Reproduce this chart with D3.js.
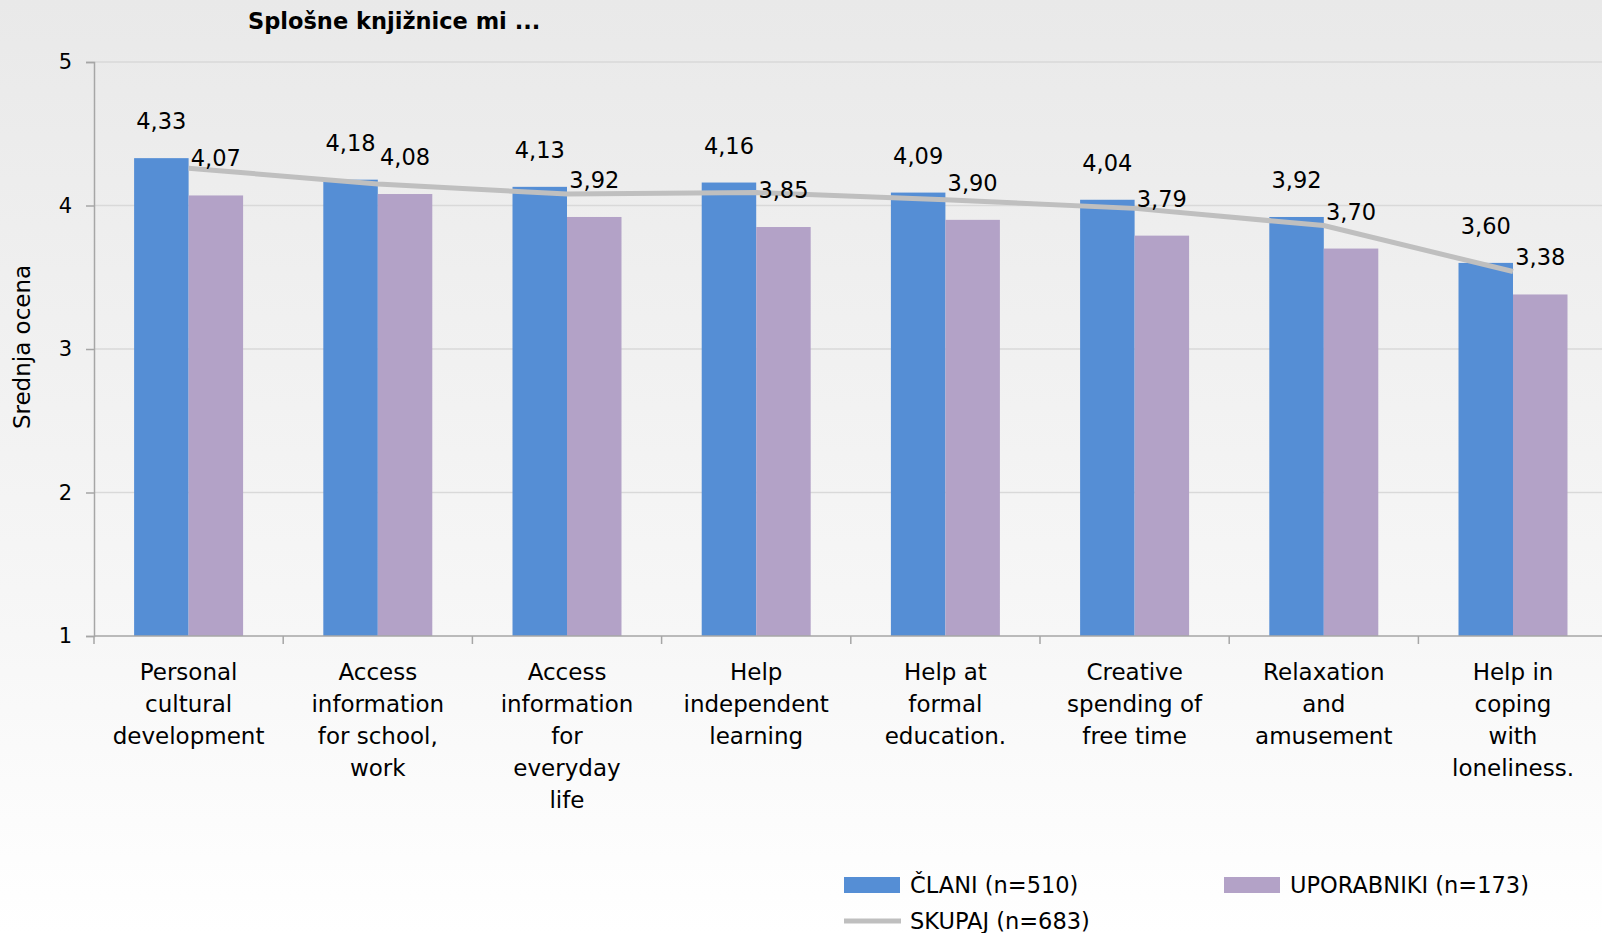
<!DOCTYPE html>
<html><head><meta charset="utf-8">
<script src="https://cdn.jsdelivr.net/npm/d3@7"></script>
<style>html,body{margin:0;padding:0;overflow:hidden;background:#fff}</style>
</head><body><svg id="c" width="1602" height="933"></svg>
<script>
const title = "Splošne knjižnice mi ...";
const yTitle = "Srednja ocena";
const categories = ["Personal\ncultural\ndevelopment", "Access\ninformation\nfor school,\nwork", "Access\ninformation\nfor\neveryday\nlife", "Help\nindependent\nlearning", "Help at\nformal\neducation.", "Creative\nspending of\nfree time", "Relaxation\nand\namusement", "Help in\ncoping\nwith\nloneliness."];
const seriesNames = ["ČLANI (n=510)", "UPORABNIKI (n=173)"];
const clani = [4.33, 4.18, 4.13, 4.16, 4.09, 4.04, 3.92, 3.60];
const uporabniki = [4.07, 4.08, 3.92, 3.85, 3.90, 3.79, 3.70, 3.38];
const lineName = "SKUPAJ (n=683)";
const skupaj = [4.26, 4.15, 4.08, 4.09, 4.04, 3.98, 3.86, 3.54];
const yTicks = [1, 2, 3, 4, 5];

const colors = ["#558ED5", "#B3A2C7"];
const lineColor = "#BFBFBF";
const font = "'DejaVu Sans', Verdana, sans-serif";
const W = 1602, H = 933;
const plotLeft = 94, plotBottom = 636, plotTop = 62, plotRight = 1607.6;

const svg = d3.select("#c");
const defs = svg.append("defs");
const grad = defs.append("linearGradient").attr("id", "bg").attr("x1", 0).attr("x2", 0).attr("y1", 0).attr("y2", 1);
grad.append("stop").attr("offset", "0%").attr("stop-color", "#e9e9e9");
grad.append("stop").attr("offset", "68%").attr("stop-color", "#f7f7f7");
grad.append("stop").attr("offset", "100%").attr("stop-color", "#ffffff");
svg.append("rect").attr("width", W).attr("height", H).attr("fill", "url(#bg)");

const x0 = d3.scaleBand().domain(categories).range([plotLeft, plotRight]).padding(0);
const x1 = d3.scaleBand().domain([0, 1]).range([0, x0.bandwidth()]).paddingInner(0).paddingOuter(0.736);
const y = d3.scaleLinear().domain([1, 5]).range([plotBottom, plotTop]);
const fmt = v => d3.format(".2f")(v).replace(".", ",");

// gridlines
svg.append("g").selectAll("line").data(yTicks.filter(t => t > 1)).join("line")
  .attr("x1", plotLeft).attr("x2", W).attr("y1", d => y(d)).attr("y2", d => y(d))
  .attr("stroke", "#d9d9d9").attr("stroke-width", 1.5);

// bars
const series = [clani, uporabniki];
const gBars = svg.append("g");
series.forEach((vals, s) => {
  gBars.append("g").selectAll("rect").data(vals).join("rect")
    .attr("x", (d, i) => x0(categories[i]) + x1(s))
    .attr("width", x1.bandwidth())
    .attr("y", d => y(d))
    .attr("height", d => y(1) - y(d))
    .attr("fill", colors[s]);
});

// line
const line = d3.line().x((d, i) => x0(categories[i]) + x0.bandwidth() / 2).y(d => y(d));
svg.append("path").datum(skupaj).attr("d", line).attr("fill", "none")
  .attr("stroke", lineColor).attr("stroke-width", 5);

// y axis
const yAxis = svg.append("g").attr("transform", `translate(${plotLeft},0)`)
  .call(d3.axisLeft(y).tickValues(yTicks).tickSize(8).tickPadding(14).tickFormat(d3.format("d")));
yAxis.select(".domain").attr("stroke", "#a6a6a6").attr("stroke-width", 1.5);
yAxis.selectAll(".tick line").attr("stroke", "#a6a6a6").attr("stroke-width", 1.5);
yAxis.selectAll(".tick text").attr("font-family", font).attr("font-size", 21).attr("fill", "#000");

// x axis
const xAxis = svg.append("g");
xAxis.append("line").attr("x1", plotLeft).attr("x2", W).attr("y1", plotBottom).attr("y2", plotBottom)
  .attr("stroke", "#a6a6a6").attr("stroke-width", 1.5);
xAxis.selectAll(".xt").data(categories).join("line").attr("class", "xt")
  .attr("x1", d => x0(d)).attr("x2", d => x0(d)).attr("y1", plotBottom).attr("y2", plotBottom + 8)
  .attr("stroke", "#a6a6a6").attr("stroke-width", 1.5);
xAxis.selectAll(".xl").data(categories).join("text").attr("class", "xl")
  .attr("font-family", font).attr("font-size", 23).attr("text-anchor", "middle").attr("fill", "#000")
  .each(function(d) {
    const t = d3.select(this);
    d.split("\n").forEach((ln, k) => {
      t.append("tspan").attr("x", x0(d) + x0.bandwidth() / 2).attr("y", 680 + k * 32).text(ln);
    });
  });

// data labels
series.forEach((vals, s) => {
  svg.append("g").selectAll("text").data(vals).join("text")
    .attr("x", (d, i) => x0(categories[i]) + x1(s) + x1.bandwidth() / 2)
    .attr("y", d => y(d) - 29)
    .attr("text-anchor", "middle").attr("font-family", font).attr("font-size", 22.5).attr("fill", "#000")
    .text(fmt);
});

// title
svg.append("text").attr("x", 248).attr("y", 29).attr("font-family", font).attr("font-size", 22.5)
  .attr("font-weight", "bold").attr("fill", "#000").text(title);

// y title
svg.append("text").attr("transform", `translate(30,347) rotate(-90)`).attr("text-anchor", "middle")
  .attr("font-family", font).attr("font-size", 23).attr("fill", "#000").text(yTitle);

// legend
const lg = svg.append("g");
const legendItems = [
  {name: seriesNames[0], type: "rect", color: colors[0], x: 844, y: 885},
  {name: seriesNames[1], type: "rect", color: colors[1], x: 1224, y: 885},
  {name: lineName, type: "line", color: lineColor, x: 844, y: 921}
];
legendItems.forEach(it => {
  if (it.type === "rect") {
    lg.append("rect").attr("x", it.x).attr("y", it.y - 8).attr("width", 56).attr("height", 16).attr("fill", it.color);
  } else {
    lg.append("line").attr("x1", it.x).attr("x2", it.x + 57).attr("y1", it.y).attr("y2", it.y)
      .attr("stroke", it.color).attr("stroke-width", 5);
  }
  lg.append("text").attr("x", it.x + 66).attr("y", it.y + 8).attr("font-family", font).attr("font-size", 22.5)
    .attr("fill", "#000").text(it.name);
});
</script>
</body></html>
